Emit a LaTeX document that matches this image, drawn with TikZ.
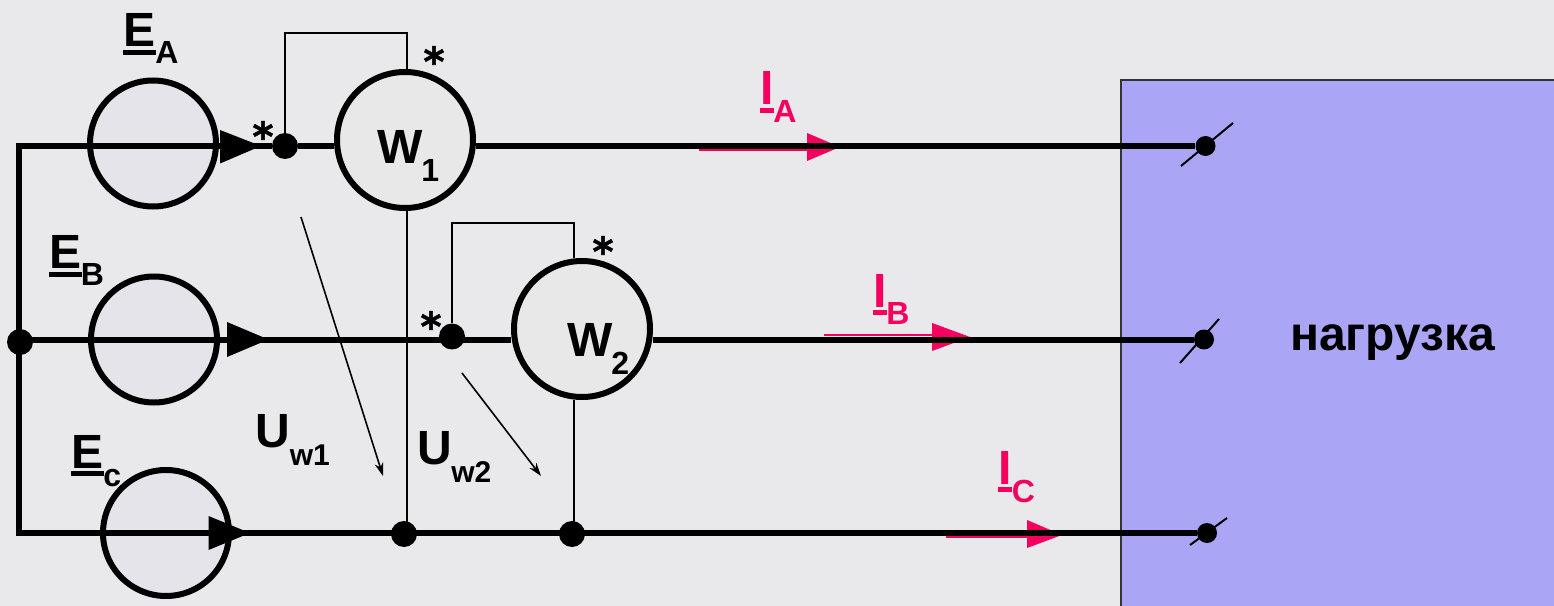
\documentclass[tikz,border=0pt]{standalone}
\usepackage{fontspec}
\setmainfont{Liberation Sans}[BoldFont={Liberation Sans Bold}]
\newfontfamily\starfont[BoldFeatures={FakeBold=1.5}]{DejaVu Sans}
\usetikzlibrary{arrows.meta}
\definecolor{bgc}{HTML}{E9E9EC}
\definecolor{srcc}{HTML}{E4E4EA}
\definecolor{watc}{HTML}{E8E8E9}
\definecolor{loadc}{HTML}{AAA6F5}
\definecolor{pinkc}{HTML}{F5005F}
\newcommand{\fs}[1]{\fontsize{#1}{#1}\selectfont\bfseries}
\newcommand{\ulT}[2]{\rlap{\rule[-6pt]{#1}{3.75pt}}#2}
\tikzset{
 srcnode/.style={circle,draw=black,line width=4.5pt,fill=srcc,minimum size=94.5pt,inner sep=0pt},
 watnode/.style={circle,draw=black,line width=4.5pt,fill=watc,minimum size=102pt,inner sep=0pt},
 dotnode/.style={circle,fill=black,minimum size=19.5pt,inner sep=0pt},
 termnode/.style={circle,fill=black,minimum size=15pt,inner sep=0pt},
 wire/.style={line width=4.5pt,line cap=butt},
 thinwire/.style={line width=1.4pt},
 tickline/.style={line width=1.5pt},
 txt/.style={inner sep=0pt,anchor=base west,text=black,yshift=-1.5pt},
 star/.style={inner sep=0pt,anchor=center,font=\starfont\bfseries\fontsize{30}{30}\selectfont},
 pinkline/.style={line width=1.8pt,draw=pinkc},
 volt/.style={line width=1.2pt,-{Stealth[length=10pt,width=6.5pt]}}
}
\begin{document}
\begin{tikzpicture}[x=0.75pt,y=-0.75pt]
\useasboundingbox (0,0) rectangle (1554,606);
\fill[bgc] (0,0) rectangle (1554,606);
% load
\draw[fill=loadc,draw=black!80,line width=1.5pt] (1120.5,608) -- (1120.5,80.5) -- (1556,80.5);
\fill[loadc] (1121.5,81.5) rectangle (1554,606);
% sources
\node[srcnode] (EA) at (153,143.5) {};
\node[srcnode] (EB) at (154,339.5) {};
\node[srcnode] (EC) at (166,533) {};
% wattmeters
\node[watnode] (W1) at (405,140) {};
\node[watnode] (W2) at (582,329) {};
% pink arrows, under the wires
\coordinate (ia1) at (699,150); \coordinate (ia2) at (810,150);
\coordinate (ib1) at (824,335); \coordinate (ib2) at (935,335);
\coordinate (ic1) at (946,536.7); \coordinate (ic2) at (1030,536.7);
\draw[pinkline] (ia1) -- (ia2);
\fill[pinkc] (807,133) -- (840,147) -- (807,161) -- cycle;
\draw[pinkline] (ib1) -- (ib2);
\fill[pinkc] (932,323) -- (970,337) -- (932,351) -- cycle;
\draw[pinkline] (ic1) -- (ic2);
\fill[pinkc] (1027,520) -- (1062,535) -- (1027,548) -- cycle;
% dots
\node[dotnode] (dA) at (285,146) {};
\node[dotnode] (dB) at (452,336.5) {};
\node[dotnode] (dN) at (20,342) {};
\node[dotnode] (dC1) at (404,534) {};
\node[dotnode] (dC2) at (572,534) {};
\node[termnode] (tA) at (1205.5,146) {};
\node[termnode] (tB) at (1204,339.5) {};
\node[termnode] (tC) at (1207,533) {};
\coordinate (cTL) at (19,146);
\coordinate (cBL) at (19,533);
\coordinate (cM1) at (20,339.5);
\coordinate (cM2) at (452,339.5);
\coordinate (cB2) at (404,533);
\coordinate (cB3) at (572,533);
\coordinate (vA) at (285,33);
\coordinate (vA2) at (407,33);
\coordinate (vB) at (452,223);
\coordinate (vB2) at (574,223);
% wires
\draw[wire,line join=miter] (dA) -- (cTL) -- (cBL) -- (cB2);
\draw[wire] (cM1) -- (cM2);
\draw[wire] (cM2) -- (W2.west |- cM2);
\draw[wire] (dA) -- (W1.west |- dA);
\draw[wire] (W1.east |- tA) -- (tA);
\draw[wire] (W2.east |- tB) -- (tB);
\draw[wire] (cB2) -- (cB3);
\draw[wire] (cB3) -- (tC);
% thin connectors
\draw[thinwire] (dA) -- (vA) -- (vA2) -- (vA2 |- W1.north);
\draw[thinwire] (dB) -- (vB) -- (vB2) -- (vB2 |- W2.north);
\draw[thinwire] (vA2 |- W1.south) -- (vA2 |- dC1);
\draw[thinwire] (vB2 |- W2.south) -- (vB2 |- dC2);
% ticks
\coordinate (ta1) at (1181,166); \coordinate (ta2) at (1233,123);
\coordinate (tb1) at (1180,363); \coordinate (tb2) at (1219,319);
\coordinate (tc1) at (1190,545); \coordinate (tc2) at (1227,518);
\draw[tickline] (ta1) -- (ta2);
\draw[tickline] (tb1) -- (tb2);
\draw[tickline] (tc1) -- (tc2);
% source arrows
\fill (220,130) -- (261,146) -- (220,163.5) -- cycle;
\fill (227,322) -- (268.5,339.5) -- (227,357) -- cycle;
\fill (208.5,516) -- (250,533) -- (208.5,550) -- cycle;
% voltage arrows
\coordinate (u1a) at (301,217); \coordinate (u1b) at (383,476);
\coordinate (u2a) at (462,373); \coordinate (u2b) at (541,476);
\draw[volt] (u1a) -- (u1b);
\draw[volt] (u2a) -- (u2b);
% labels
\node[txt] at (123,45) {\fs{36}\ulT{24.75pt}{E}};
\node[txt] at (155,62) {\fs{24}A};
\node[txt] at (49,267) {\fs{36}\ulT{24.75pt}{E}};
\node[txt] at (80.5,284) {\fs{24}B};
\node[txt] at (71,466) {\fs{36}\ulT{24.75pt}{E}};
\node[txt] at (103,484) {\fs{24}c};
\node[txt] at (377,162) {\fs{36}W};
\node[txt] at (421,180) {\fs{24}1};
\node[txt] at (567,354) {\fs{36}W};
\node[txt] at (611,372) {\fs{24}2};
\node[txt] at (255,445) {\fs{36}U};
\node[txt] at (289.5,463) {\fs{22.5}w1};
\node[txt] at (417,462) {\fs{36}U};
\node[txt] at (451,480) {\fs{22.5}w2};
\node[txt] at (1290,348) {\fs{36}нагрузка};
\node[star] (sA) at (434,61) {*};
\node[star] (sB) at (263,136) {*};
\node[star] (sC) at (603,251) {*};
\node[star] (sD) at (431,326) {*};
\node[txt,text=pinkc] at (760,103) {\fs{36}\ulT{10.5pt}{I}};
\node[txt,text=pinkc] at (773,121) {\fs{24}A};
\node[txt,text=pinkc] at (873,305) {\fs{36}\ulT{10.5pt}{I}};
\node[txt,text=pinkc] at (886,323) {\fs{24}B};
\node[txt,text=pinkc] at (998,482) {\fs{36}\ulT{10.5pt}{I}};
\node[txt,text=pinkc] at (1011.5,500) {\fs{24}C};
\end{tikzpicture}
\end{document}
